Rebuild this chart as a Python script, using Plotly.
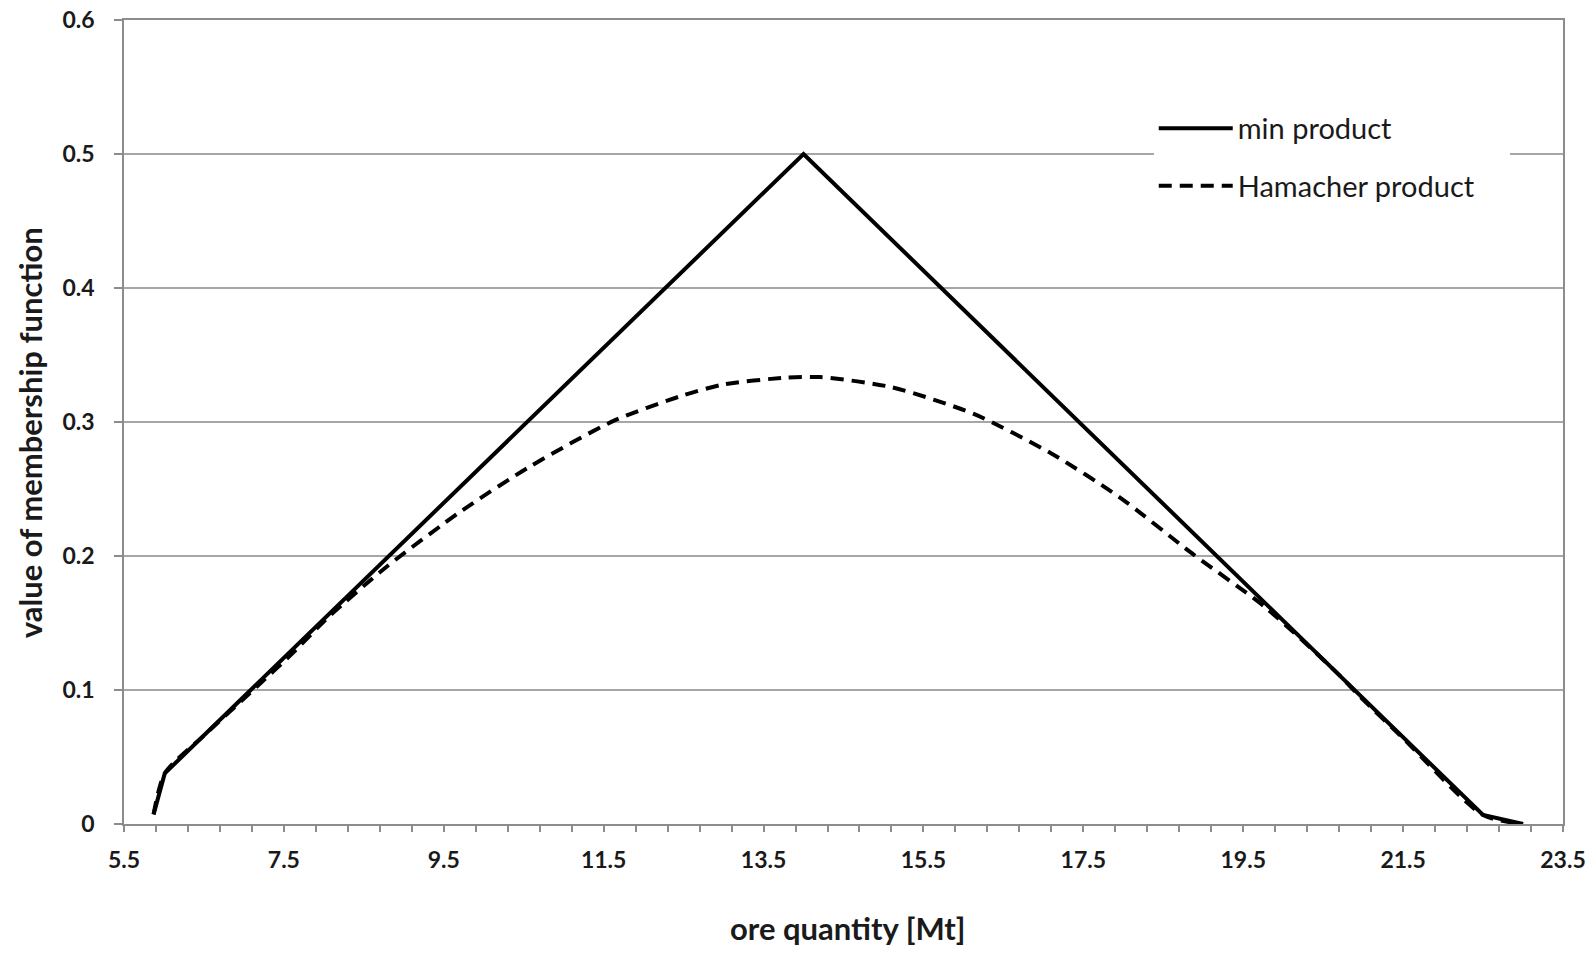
import plotly.graph_objects as go

# data
min_x = [5.87, 6.01, 14.0, 22.5, 23.0]
min_y = [0.0072, 0.0378, 0.5, 0.0067, 0.0]

ham_x = [5.87, 6.01, 6.5, 7.16, 7.6, 8.06, 8.785, 9.73, 10.57, 11.63, 12.5, 13.0,
         13.76, 14.2, 15.1, 16.13, 17.1, 17.95, 18.86, 19.77, 20.68, 20.98, 21.5, 22.5, 23.0]
ham_y = [0.0072, 0.0378, 0.066, 0.1024, 0.127, 0.1546, 0.192, 0.234, 0.2665, 0.301, 0.320, 0.328,
         0.333, 0.3335, 0.326, 0.306, 0.2765, 0.244, 0.2019, 0.162, 0.1124, 0.094, 0.064, 0.0067, 0.0]

x_ticks = [5.5, 7.5, 9.5, 11.5, 13.5, 15.5, 17.5, 19.5, 21.5, 23.5]
y_ticks = [0, 0.1, 0.2, 0.3, 0.4, 0.5, 0.6]

FONT = "Lato"
TXT = "#1a1a1a"
GRID = "#a6a6a6"
AXIS = "#8c8c8c"
PAD = "\u00a0" * 4

fig = go.Figure()
fig.add_trace(go.Scatter(x=min_x, y=min_y, mode="lines", name="min product" + PAD,
                         legendgroup="a",
                         line=dict(color="black", width=4)))
fig.add_trace(go.Scatter(x=ham_x, y=ham_y, mode="lines", name="Hamacher product" + PAD,
                         legendgroup="b",
                         line=dict(color="black", width=4, dash="13px,8px",
                                   shape="spline", smoothing=0.7)))

fig.update_layout(
    width=1596, height=953,
    margin=dict(l=124, r=33, t=20, b=129, autoexpand=False),
    paper_bgcolor="white", plot_bgcolor="white",
    font=dict(family=FONT, color=TXT),
    showlegend=True,
    legend=dict(x=0.7156, y=0.897, xanchor="left", yanchor="top",
                bgcolor="white", font=dict(size=29, family=FONT, color=TXT),
                tracegroupgap=17, traceorder="grouped", itemwidth=74,
                borderwidth=0),
    xaxis=dict(
        range=[5.5, 23.5], tickmode="array", tickvals=x_ticks,
        ticktext=[str(v) for v in x_ticks], automargin=False,
        ticklabeloverflow="allow",
        showgrid=False, zeroline=False,
        showline=True, linecolor=AXIS, linewidth=1.5, mirror=True,
        ticks="outside", ticklen=6, tickcolor=AXIS, tickwidth=1.5,
        minor=dict(dtick=0.4, tick0=5.5, ticks="outside", ticklen=6,
                   tickcolor=AXIS, tickwidth=1.5, showgrid=False),
        tickfont=dict(size=23, family=FONT, color=TXT, weight="bold"),
        ticklabelstandoff=9,
    ),
    yaxis=dict(
        range=[0, 0.6], tickmode="array", tickvals=y_ticks,
        ticktext=["0", "0.1", "0.2", "0.3", "0.4", "0.5", "0.6"], automargin=False,
        ticklabeloverflow="allow",
        showgrid=True, gridcolor=GRID, gridwidth=1.5, zeroline=False,
        showline=True, linecolor=AXIS, linewidth=1.5, mirror=True,
        ticks="outside", ticklen=8, tickcolor=AXIS, tickwidth=1.5,
        tickfont=dict(size=23, family=FONT, color=TXT, weight="bold"),
        ticklabelstandoff=15,
    ),
    annotations=[
        dict(text="<b>ore quantity [Mt]</b>", xref="paper", yref="paper",
             x=0.5028, y=0, yshift=-104, xanchor="center", yanchor="middle",
             showarrow=False, font=dict(size=31, family=FONT, color=TXT)),
        dict(text="<b>value of membership function</b>", xref="paper", yref="paper",
             x=0, xshift=-94, y=0.486, xanchor="center", yanchor="middle", textangle=-90,
             showarrow=False, font=dict(size=31, family=FONT, color=TXT)),
    ],
)

# remove the default 8px page margin so the figure fills the window exactly
fig.write_html("out.html",
               config={"displayModeBar": False},
               post_script="document.body.style.margin='0';document.body.style.overflow='hidden';")
